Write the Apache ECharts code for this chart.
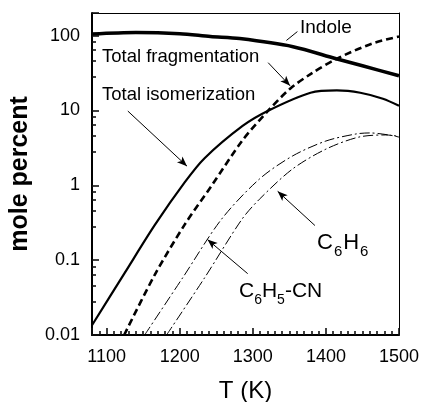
<!DOCTYPE html>
<html><head><meta charset="utf-8">
<script src="https://cdn.jsdelivr.net/npm/echarts@6/dist/echarts.min.js"></script>
<style>html,body{margin:0;padding:0;background:#fff}#c{width:422px;height:402px}</style>
</head><body><div id="c"></div>
<script>
// Tick labels
const xMajorTicks = [1100, 1200, 1300, 1400, 1500];
const yMajorTicks = [0.01, 0.1, 1, 10, 100];

// Series data (T in K, mole percent)
const indoleT = [1080, 1140, 1200, 1242, 1282, 1355, 1414, 1450, 1500];
const indoleV = [105, 110, 106, 97, 91, 71, 49, 39.5, 29];

const isoT = [1080, 1125, 1166, 1207, 1234, 1286, 1321, 1379, 1415, 1447, 1478, 1500];
const isoV = [0.0135, 0.068, 0.295, 1.1, 2.3, 6.2, 9.9, 17.2, 18.5, 17.2, 14.3, 11.5];

const fragT = [1124, 1166, 1207, 1244, 1286, 1321, 1351, 1380, 1415, 1463, 1500];
const fragV = [0.01, 0.064, 0.30, 1.0, 4.0, 9.9, 19.5, 31, 49, 78, 97];

const cnT = [1152, 1204, 1257, 1309, 1354, 1400, 1441, 1460, 1486, 1500];
const cnV = [0.01, 0.058, 0.35, 1.21, 2.45, 3.9, 4.84, 5.0, 4.7, 4.4];

const bzT = [1182, 1234, 1285, 1309, 1354, 1400, 1445, 1482, 1500];
const bzV = [0.01, 0.058, 0.35, 0.65, 1.64, 3.04, 4.4, 4.7, 4.5];

// Annotation arrows in data coordinates [T, value]
const arrowIndole = [[1361, 113], [1346, 86]];
const arrowFrag = [[1321, 43.4], [1351, 21.3]];
const arrowIso = [[1129, 9.8], [1210, 1.8]];
const arrowBz = [[1385, 0.29], [1334, 0.83]];
const arrowCn = [[1293, 0.066], [1238, 0.188]];

const X_MIN = 1080, X_MAX = 1500, Y_MIN = 0.01, Y_MAX = 200;

function zip(t, v) { return t.map((x, i) => [x, v[i]]); }
function near(list, v, tol) { return list.some(t => Math.abs(t - v) <= tol * Math.abs(t)); }

const FONT = '"Liberation Sans", Arial, sans-serif';
const chart = echarts.init(document.getElementById('c'), null, { renderer: 'canvas' });

function arrow(p, head) {
  return [{ coord: p[0], symbol: 'none' }, { coord: p[1], symbol: head ? 'arrow' : 'none' }];
}
const noLabel = { show: false };
const noSplit = { show: false };
const TICK = { color: '#111', width: 1.6 };

const option = {
  animation: false,
  grid: { left: 92, right: 23, top: 13, bottom: 67, outerBoundsMode: 'none' },
  xAxis: [{
    type: 'value', min: X_MIN, max: X_MAX, position: 'bottom',
    name: 'T (K)', nameLocation: 'middle', nameGap: 44,
    nameTextStyle: { fontFamily: FONT, fontSize: 24, color: '#000' },
    axisLine: { show: true, lineStyle: { color: '#000', width: 2 } },
    axisTick: { show: true, inside: true, length: 7, lineStyle: TICK },
    minorTick: { show: true, splitNumber: 10, length: 4, lineStyle: TICK },
    axisLabel: { margin: 13, fontFamily: FONT, fontSize: 18, color: '#000',
      formatter: v => near(xMajorTicks, v, 1e-6) ? String(Math.round(v)) : '' },
    splitLine: noSplit, minorSplitLine: noSplit
  }, {
    // top frame
    type: 'value', min: X_MIN, max: X_MAX, position: 'top',
    axisLine: { show: true, lineStyle: { color: '#000', width: 1 } },
    axisTick: { show: false }, axisLabel: noLabel, splitLine: noSplit
  }],
  yAxis: [{
    type: 'log', logBase: 10, min: Y_MIN, max: Y_MAX, position: 'left',
    name: 'mole percent', nameLocation: 'middle', nameGap: 59, nameRotate: 90,
    nameTextStyle: { fontFamily: FONT, fontSize: 25, fontWeight: 'bold', color: '#000' },
    axisLine: { show: true, lineStyle: { color: '#000', width: 2 } },
    axisTick: { show: true, inside: true, length: 7, lineStyle: TICK },
    minorTick: { show: true, length: 4, lineStyle: TICK },
    axisLabel: { margin: 12, fontFamily: FONT, fontSize: 18, color: '#000', showMaxLabel: false,
      formatter: v => near(yMajorTicks, v, 1e-6) ? String(Number(Number(v).toPrecision(3))) : '' },
    splitLine: noSplit, minorSplitLine: noSplit
  }, {
    // right frame
    type: 'log', logBase: 10, min: Y_MIN, max: Y_MAX, position: 'right',
    axisLine: { show: true, lineStyle: { color: '#000', width: 1 } },
    axisTick: { show: false }, axisLabel: noLabel, splitLine: noSplit
  }],
  series: [{
    name: 'Indole', type: 'line', smooth: 0.3, symbol: 'none',
    data: zip(indoleT, indoleV),
    lineStyle: { color: '#000', width: 3.5 },
    markLine: {
      silent: true, symbolSize: [6, 10], label: { show: false }, animation: false,
      lineStyle: { color: '#000', width: 1, type: 'solid' },
      emphasis: { disabled: true },
      data: [arrow(arrowIndole, false), arrow(arrowFrag, true), arrow(arrowIso, true), arrow(arrowBz, true), arrow(arrowCn, true)]
    }
  }, {
    name: 'Total isomerization', type: 'line', smooth: 0.3, symbol: 'none',
    data: zip(isoT, isoV),
    lineStyle: { color: '#000', width: 2.2 }
  }, {
    name: 'Total fragmentation', type: 'line', smooth: 0.3, symbol: 'none',
    data: zip(fragT, fragV),
    lineStyle: { color: '#000', width: 2.6, type: [7, 4] }
  }, {
    name: 'C6H5-CN', type: 'line', smooth: 0.3, symbol: 'none',
    data: zip(cnT, cnV),
    lineStyle: { color: '#000', width: 1, type: [10, 3, 2, 3] }
  }, {
    name: 'C6H6', type: 'line', smooth: 0.3, symbol: 'none',
    data: zip(bzT, bzV),
    lineStyle: { color: '#000', width: 1, type: [10, 3, 2, 3] }
  }],
  graphic: [
    { type: 'text', style: { x: 300, y: 28, text: 'Indole', font: '19px ' + FONT, fill: '#000', verticalAlign: 'middle', textVerticalAlign: 'middle' } },
    { type: 'text', style: { x: 102, y: 57, text: 'Total fragmentation', font: '18.5px ' + FONT, fill: '#000', verticalAlign: 'middle', textVerticalAlign: 'middle' } },
    { type: 'text', style: { x: 102, y: 95, text: 'Total isomerization', font: '18.5px ' + FONT, fill: '#000', verticalAlign: 'middle', textVerticalAlign: 'middle' } },
    { type: 'text', style: { x: 317, y: 243, text: '{a|C}{b|6}{a|H}{b|6}', fill: '#000', verticalAlign: 'middle', textVerticalAlign: 'middle',
      rich: { a: { fontFamily: FONT, fontSize: 22, lineHeight: 24, fill: '#000' }, b: { fontFamily: FONT, fontSize: 15, lineHeight: 15, padding: [18, 1, 0, 1], fill: '#000' } } } },
    { type: 'text', style: { x: 239, y: 291, text: '{a|C}{b|6}{a|H}{b|5}{a|-CN}', fill: '#000', verticalAlign: 'middle', textVerticalAlign: 'middle',
      rich: { a: { fontFamily: FONT, fontSize: 21, lineHeight: 24, fill: '#000' }, b: { fontFamily: FONT, fontSize: 14, lineHeight: 14, padding: [18, 0, 0, 0], fill: '#000' } } } }
  ]
};
chart.setOption(option);
</script>
</body></html>
